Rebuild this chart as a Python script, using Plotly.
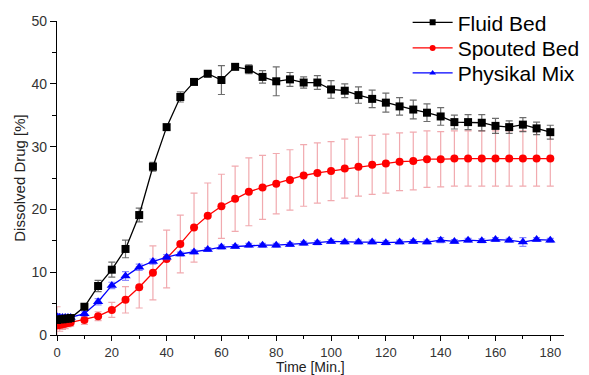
import plotly.graph_objects as go

time_min = [0, 1, 2, 3, 4, 5, 10, 15, 20, 25, 30, 35, 40, 45, 50, 55, 60, 65, 70, 75, 80,
            85, 90, 95, 100, 105, 110, 115, 120, 125, 130, 135, 140, 145, 150, 155, 160,
            165, 170, 175, 180]

fluid_bed = [2.4, 2.5, 2.5, 2.6, 2.6, 2.7, 4.5, 7.8, 10.4, 13.7, 19.1, 26.8, 33.1, 37.9, 40.3,
             41.6, 40.6, 42.7, 42.3, 41.1, 40.4, 40.7, 40.2, 40.2, 39.1, 38.9, 38.2, 37.6,
             37.0, 36.4, 35.9, 35.4, 34.8, 33.9, 33.9, 33.8, 33.3, 33.1, 33.5, 32.9, 32.3]
fluid_bed_err = [0.3, 0.3, 0.3, 0.3, 0.3, 0.3, 0.4, 0.9, 1.2, 1.4, 1.1, 0.7, 0.4, 0.8, 0.4,
                 0.3, 2.3, 0.4, 0.7, 1.0, 2.3, 1.1, 0.9, 1.1, 1.4, 1.1, 1.3, 1.4, 1.5, 1.4,
                 1.5, 1.4, 1.4, 1.1, 1.2, 1.3, 1.2, 1.0, 1.1, 1.0, 1.1]

spouted_bed = [1.5, 1.6, 1.7, 1.8, 1.9, 2.0, 2.4, 3.0, 4.0, 5.6, 7.6, 9.9, 12.1, 14.5, 17.1,
               19.0, 20.5, 21.7, 22.8, 23.5, 24.1, 24.7, 25.4, 25.8, 26.1, 26.5, 26.8, 27.1,
               27.3, 27.6, 27.7, 28.0, 28.0, 28.1, 28.1, 28.1, 28.1, 28.1, 28.1, 28.1, 28.1]
spouted_bed_err = [3.0, 1.0, 0.8, 0.8, 0.6, 0.6, 0.7, 0.7, 1.2, 2.1, 3.3, 4.3, 4.6, 4.6, 5.5,
                   5.2, 5.1, 5.2, 5.4, 5.1, 4.8, 4.8, 4.9, 4.8, 4.7, 4.7, 4.7, 4.7, 4.7, 4.6,
                   4.6, 4.5, 4.4, 4.4, 4.4, 4.4, 4.4, 4.4, 4.4, 4.4, 4.4]

physikal_mix = [2.9, 2.8, 2.8, 2.8, 2.8, 2.8, 3.4, 5.3, 7.9, 9.4, 10.8, 11.7, 12.4, 12.9, 13.2,
                13.6, 14.0, 14.1, 14.3, 14.3, 14.3, 14.4, 14.6, 14.7, 14.9, 14.8, 14.8, 14.8,
                14.7, 14.8, 14.9, 14.8, 15.1, 14.9, 15.1, 15.0, 15.2, 15.1, 14.8, 15.2, 15.1]
physikal_mix_err = [0.5, 0.3, 0.3, 0.3, 0.3, 0.3, 0.4, 0.5, 0.5, 0.7, 0.5, 0.4, 0.4, 0.3, 0.3,
                    0.3, 0.3, 0.3, 0.3, 0.3, 0.3, 0.3, 0.3, 0.3, 0.3, 0.3, 0.3, 0.3, 0.3, 0.3,
                    0.3, 0.3, 0.4, 0.3, 0.3, 0.3, 0.3, 0.3, 0.7, 0.3, 0.3]

series_names = ["Fluid Bed", "Spouted Bed", "Physikal Mix"]
x_title = "Time [Min.]"
y_title = "Dissolved Drug [%]"

FONT = "Arial, Liberation Sans, sans-serif"

fig = go.Figure()

# Spouted Bed (drawn first, behind)
fig.add_trace(go.Scatter(
    x=time_min, y=spouted_bed, mode="lines+markers", showlegend=False,
    line=dict(color="#ff0000", width=1.3),
    marker=dict(symbol="circle", size=8, color="#ff0000"),
    error_y=dict(type="data", array=spouted_bed_err, color="rgba(230,100,110,0.55)",
                 thickness=1.2, width=3.5),
))
# Physikal Mix
fig.add_trace(go.Scatter(
    x=time_min, y=physikal_mix, mode="lines+markers", showlegend=False,
    line=dict(color="#0000ff", width=1.3),
    marker=dict(symbol="triangle-up", size=9, color="#0000ff"),
    error_y=dict(type="data", array=physikal_mix_err, color="rgba(60,60,255,0.6)",
                 thickness=1.2, width=3.5),
))
# Fluid Bed
fig.add_trace(go.Scatter(
    x=time_min, y=fluid_bed, mode="lines+markers", showlegend=False,
    line=dict(color="#000000", width=1.3),
    marker=dict(symbol="square", size=8, color="#000000"),
    error_y=dict(type="data", array=fluid_bed_err, color="rgba(60,60,60,0.75)",
                 thickness=1.2, width=3.5),
))

# Legend entries, one legend per row for exact spacing
legend_ids = ["legend", "legend2", "legend3"]
legend_y = [0.9608, 0.8925, 0.8259]
for name, col, sym, lid in zip(series_names, ["#000000", "#ff0000", "#0000ff"],
                               ["square", "circle", "triangle-up"], legend_ids):
    fig.add_trace(go.Scatter(
        x=[None], y=[None], mode="lines+markers", name=name, legend=lid,
        line=dict(color=col, width=1.3),
        marker=dict(symbol=sym, size=6, color=col),
    ))

axis_common = dict(
    showline=True, linecolor="#000000", linewidth=1.3, mirror=False,
    ticks="outside", tickwidth=1.2, tickcolor="#000000",
    showgrid=False, zeroline=False, automargin=False,
)

fig.update_xaxes(
    range=[0, 185], tickmode="array", tickvals=[0, 20, 40, 60, 80, 100, 120, 140, 160, 180],
    ticklen=5, tickfont=dict(family=FONT, size=13, color="#333333"),
    minor=dict(ticks="outside", tickvals=[10, 30, 50, 70, 90, 110, 130, 150, 170],
               ticklen=3, tickwidth=1.2, tickcolor="#000000"),
    **axis_common,
)
fig.update_yaxes(
    range=[0, 50], tickmode="array", tickvals=[0, 10, 20, 30, 40, 50],
    ticklen=6, tickfont=dict(family=FONT, size=14, color="#333333"),
    minor=dict(ticks="outside", tickvals=[5, 15, 25, 35, 45],
               ticklen=4, tickwidth=1.2, tickcolor="#000000"),
    title=dict(text=y_title, font=dict(family=FONT, size=15, color="#222222"), standoff=2),
    **axis_common,
)

# x-axis title as an annotation so it stays inside the visible window
fig.add_annotation(
    text=x_title, x=0.5, xref="paper", y=0, yref="paper",
    xanchor="center", yanchor="top", yshift=-22, showarrow=False,
    font=dict(family=FONT, size=14, color="#222222"),
)

legend_common = dict(
    x=0.6785, xref="container", yref="container", xanchor="left", yanchor="middle",
    font=dict(family=FONT, size=21, color="#000000"),
    bgcolor="rgba(0,0,0,0)", itemwidth=40,
)

# the page body has an 8px margin, so the figure is offset by 8px in the screenshot
fig.update_layout(
    width=589, height=375,
    margin=dict(l=49, r=33, t=12.5, b=47.5, autoexpand=False),
    paper_bgcolor="white", plot_bgcolor="white",
    legend=dict(y=legend_y[0], **legend_common),
    legend2=dict(y=legend_y[1], **legend_common),
    legend3=dict(y=legend_y[2], **legend_common),
)

fig.write_html("out.html")
